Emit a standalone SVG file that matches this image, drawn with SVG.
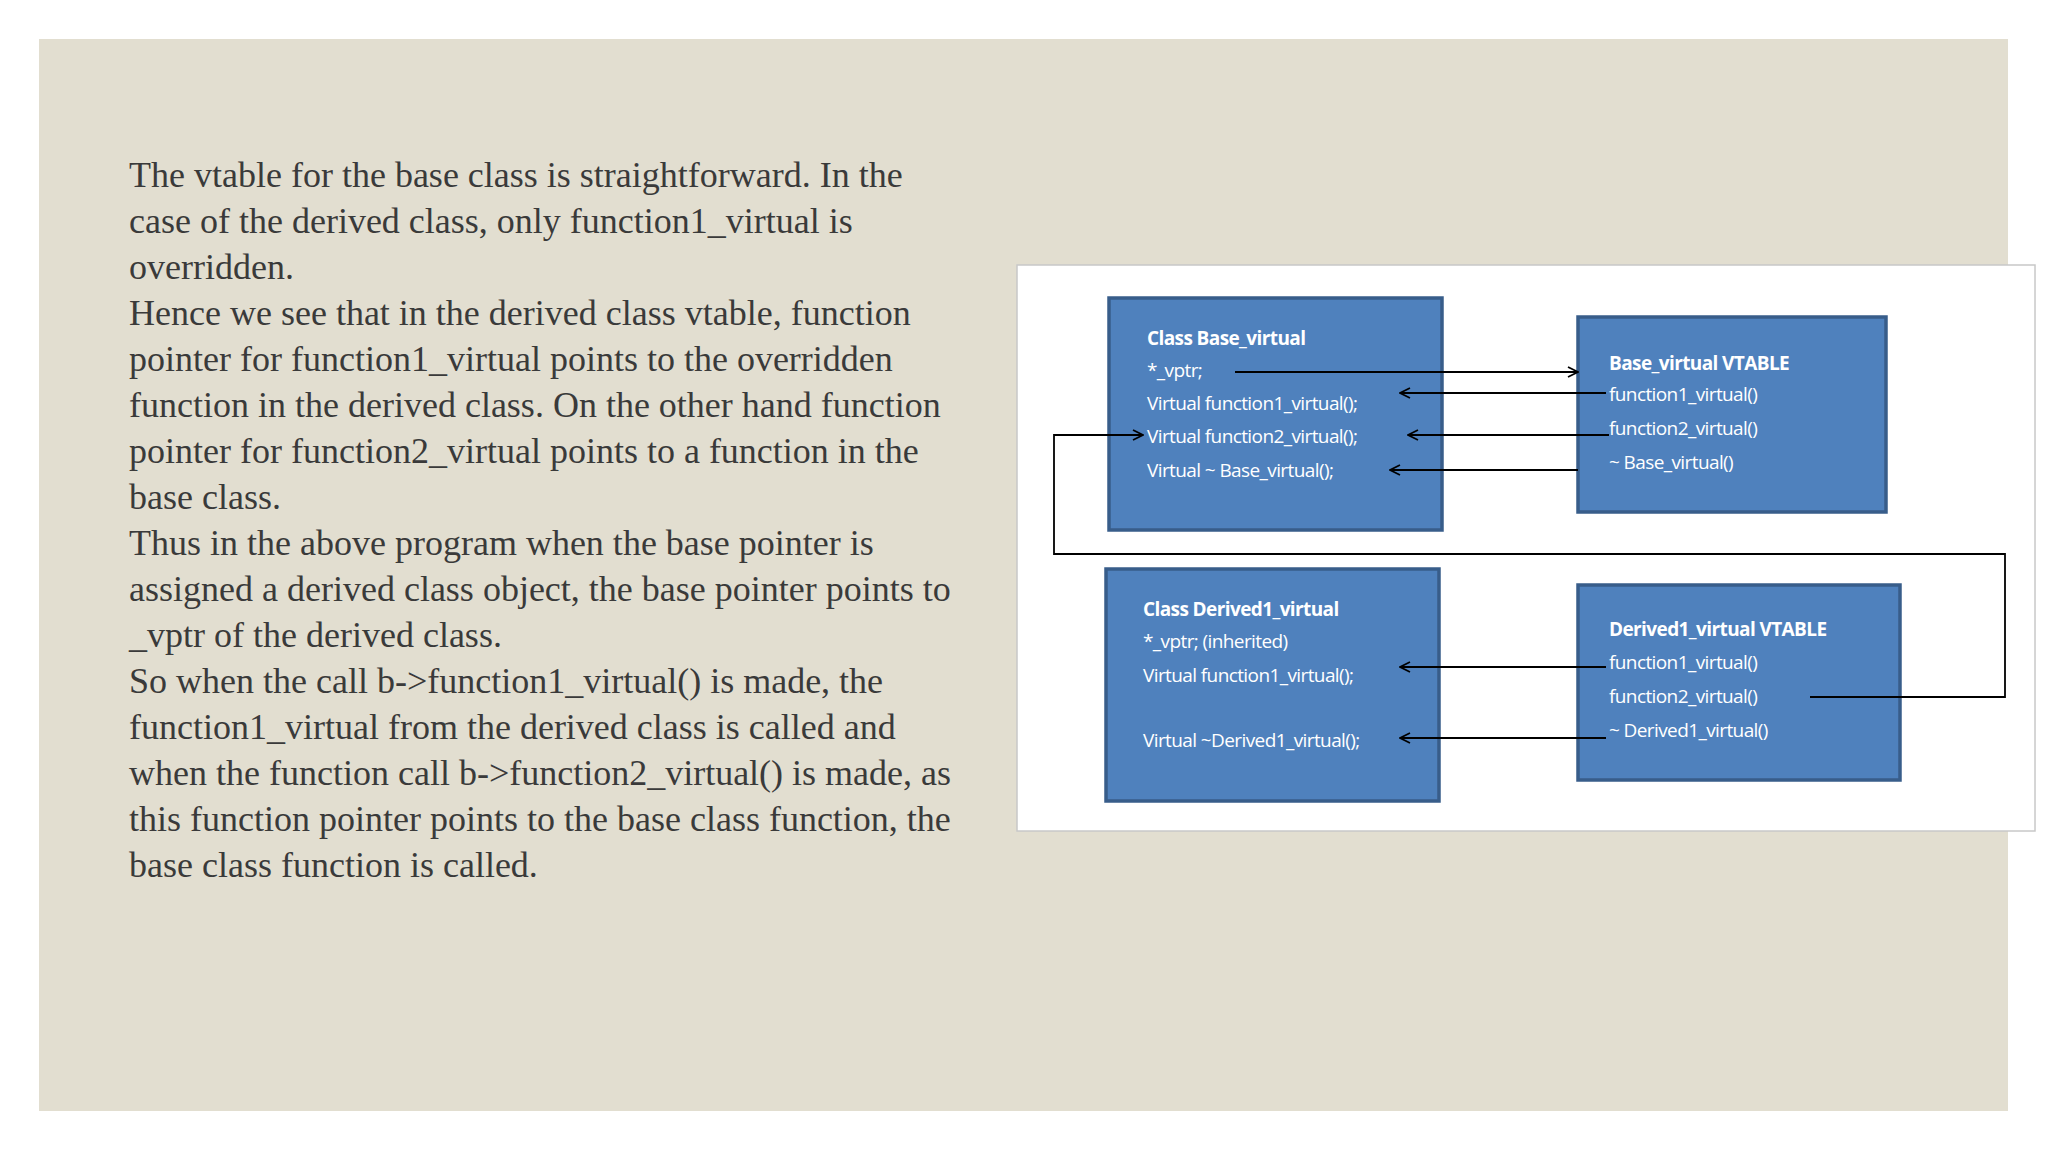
<svg xmlns="http://www.w3.org/2000/svg" width="2048" height="1152" viewBox="0 0 2048 1152">
<style>
.p{font-family:"Liberation Serif","Times New Roman",serif;font-size:36px;fill:#3a3a3a}
.b{fill:#4f81bd;stroke:#385d8a;stroke-width:3.5}
.t{font-family:"Open Sans","Liberation Sans",sans-serif;font-size:19px;fill:#fff;letter-spacing:-0.6px}
.h{font-weight:bold}
.c{fill:none;stroke:#000;stroke-width:1.8;marker-end:url(#a)}
</style>
<defs><marker id="a" viewBox="0 0 12 12" refX="11" refY="6" markerWidth="12" markerHeight="12" markerUnits="userSpaceOnUse" orient="auto"><path d="M1,1 L11,6 L1,11" fill="none" stroke="#000" stroke-width="1.8"/></marker></defs>
<rect width="2048" height="1152" fill="#fff"/>
<rect x="39" y="39" width="1969" height="1072" fill="#e2ded0"/>
<g id="text" class="p">
<text x="129" y="187">The vtable for the base class is straightforward. In the</text>
<text x="129" y="233">case of the derived class, only function1_virtual is</text>
<text x="129" y="279">overridden.</text>
<text x="129" y="325">Hence we see that in the derived class vtable, function</text>
<text x="129" y="371">pointer for function1_virtual points to the overridden</text>
<text x="129" y="417">function in the derived class. On the other hand function</text>
<text x="129" y="463">pointer for function2_virtual points to a function in the</text>
<text x="129" y="509">base class.</text>
<text x="129" y="555">Thus in the above program when the base pointer is</text>
<text x="129" y="601">assigned a derived class object, the base pointer points to</text>
<text x="129" y="647">_vptr of the derived class.</text>
<text x="129" y="693">So when the call b-&gt;function1_virtual() is made, the</text>
<text x="129" y="739">function1_virtual from the derived class is called and</text>
<text x="129" y="785">when the function call b-&gt;function2_virtual() is made, as</text>
<text x="129" y="831">this function pointer points to the base class function, the</text>
<text x="129" y="877">base class function is called.</text>
</g>
<rect id="panel" x="1017" y="265" width="1018" height="566" fill="#fff" stroke="#c8c8c8" stroke-width="1.5"/>
<g id="base">
<rect class="b" x="1109" y="298" width="333" height="232"/>
<text class="t h" x="1147" y="345">Class Base_virtual</text>
<text class="t" x="1147" y="377">*_vptr;</text>
<text class="t" x="1147" y="410">Virtual function1_virtual();</text>
<text class="t" x="1147" y="443">Virtual function2_virtual();</text>
<text class="t" x="1147" y="477">Virtual ~ Base_virtual();</text>
</g>
<g id="basevt">
<rect class="b" x="1578" y="317" width="308" height="195"/>
<text class="t h" x="1609" y="370">Base_virtual VTABLE</text>
<text class="t" x="1609" y="401">function1_virtual()</text>
<text class="t" x="1609" y="435">function2_virtual()</text>
<text class="t" x="1609" y="469">~ Base_virtual()</text>
</g>
<g id="derived">
<rect class="b" x="1106" y="569" width="333" height="232"/>
<text class="t h" x="1143" y="616">Class Derived1_virtual</text>
<text class="t" x="1143" y="648">*_vptr; (inherited)</text>
<text class="t" x="1143" y="682">Virtual function1_virtual();</text>
<text class="t" x="1143" y="747">Virtual ~Derived1_virtual();</text>
</g>
<g id="derivedvt">
<rect class="b" x="1578" y="585" width="322" height="195"/>
<text class="t h" x="1609" y="636">Derived1_virtual VTABLE</text>
<text class="t" x="1609" y="669">function1_virtual()</text>
<text class="t" x="1609" y="703">function2_virtual()</text>
<text class="t" x="1609" y="737">~ Derived1_virtual()</text>
</g>
<g id="connectors">
<path class="c" d="M1235,372 H1578"/>
<path class="c" d="M1606,393 H1400"/>
<path class="c" d="M1609,435 H1408"/>
<path class="c" d="M1578,470 H1390"/>
<path class="c" d="M1810,697 H2005 V554 H1054 V435 H1143"/>
<path class="c" d="M1606,667 H1400"/>
<path class="c" d="M1606,738 H1400"/>
</g>
</svg>
